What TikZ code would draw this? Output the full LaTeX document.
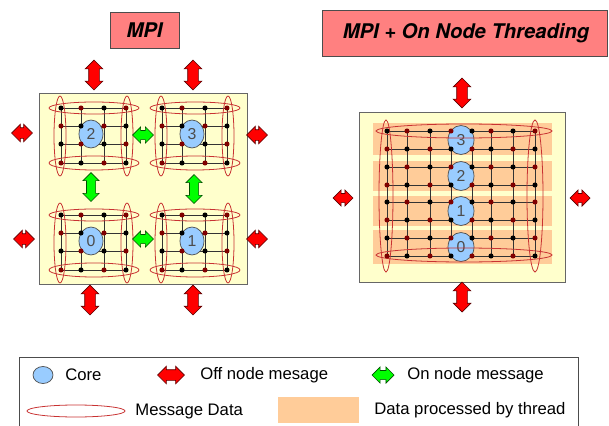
\documentclass[tikz,border=0pt]{standalone}
\usepackage{fontspec}
\setmainfont{Liberation Sans}
\newfontfamily\titlefont{TeX Gyre Heros}
\usetikzlibrary{calc,shapes.arrows,shapes.geometric}

\definecolor{titlered}{RGB}{255,128,128}
\definecolor{nodeyellow}{RGB}{255,255,204}
\definecolor{corefill}{RGB}{153,204,255}
\definecolor{threadfill}{RGB}{255,204,153}
\definecolor{dot0}{RGB}{0,0,0}
\definecolor{dot1}{RGB}{128,0,0}
\definecolor{msgred}{RGB}{200,50,50}
\definecolor{offred}{RGB}{255,0,0}
\definecolor{ongreen}{RGB}{0,255,0}

\tikzset{
  titlebox/.style={draw=black!70, fill=titlered},
  titletext/.style={text=black, font=\fontsize{11.5}{13}\titlefont\bfseries\itshape},
  nodebox/.style={draw=black!60, fill=nodeyellow},
  gridline/.style={draw=black!80, line width=0.5pt},
  msgdata/.style={draw=msgred, line width=0.45pt},
  core/.style={ellipse, draw=black!70, fill=corefill, inner sep=0pt,
    minimum width=0.48cm, minimum height=0.56cm, text=black!70,
    font=\fontsize{9}{10}\selectfont},
  offmsg/.style={double arrow, draw=dot1!70!black, fill=offred, inner xsep=0pt,
    inner ysep=0.1cm, double arrow head extend=0.07cm, minimum height=0.6cm},
  onmsg/.style={offmsg, fill=ongreen, draw=green!30!black, inner ysep=0.085cm},
  legtext/.style={anchor=west, inner sep=0pt, font=\fontsize{9.5}{11}\selectfont}
}

\begin{document}
\begin{tikzpicture}[x=0.02cm, y=-0.02cm]
  \useasboundingbox (0,0) rectangle (609,426);

  \draw[titlebox] (110,12) rectangle (179,48);
  \node[titletext] (t1) at (144.5,30) {MPI};
  \draw[titlebox] (322,10) rectangle (607,56);
  \node[titletext] (t2) at (466,33) {MPI + On Node Threading};

  \draw[nodebox] (39,93) rectangle (247,284);
  \draw[nodebox] (359,112) rectangle (565,282);

  \foreach \gx/\gy/\n in {61/108/2,162/108/3,61/215/0,162/215/1} {
    \foreach \d in {0,18,36,55}
      \draw[gridline] (\gx,\gy+\d) -- (\gx+65,\gy+\d);
    \foreach \d in {0,20,43,65}
      \draw[gridline] (\gx+\d,\gy) -- (\gx+\d,\gy+55);
    \node[core] (core\n) at (\gx+30,\gy+26) {\n};
    \draw[msgdata] (\gx+33,\gy) ellipse [x radius=45, y radius=6];
    \draw[msgdata] (\gx+33,\gy+55) ellipse [x radius=45, y radius=7];
    \draw[msgdata] (\gx-1,\gy+28) ellipse [x radius=6, y radius=40];
    \draw[msgdata] (\gx+66,\gy+28) ellipse [x radius=6, y radius=40];
    \foreach \dx [count=\i] in {0,20,43,65} {
      \foreach \dy [count=\j] in {0,18,36,55} {
        \pgfmathtruncatemacro\k{mod(\i+\j,2)}
        \path[fill=dot\k] (\gx+\dx,\gy+\dy) circle [radius=1.45pt];
      }
    }
  }

  \foreach \y/\h in {123/32,161/30,196/30,230/34}
    \fill[threadfill] (373,\y) rectangle (552,\y+\h);
  \foreach \y in {131,149,167,185,202,220,238,256}
    \draw[gridline] (387,\y) -- (535,\y);
  \foreach \x in {387,407,430,451,472,491,513,535}
    \draw[gridline] (\x,131) -- (\x,256);
  \foreach \n/\y in {3/140,2/176,1/211,0/247}
    \node[core, minimum width=0.52cm, minimum height=0.58cm] (thr\n) at (461,\y) {\n};
  \draw[msgdata] (464,131) ellipse [x radius=88, y radius=7];
  \draw[msgdata] (464,255) ellipse [x radius=88, y radius=7];
  \draw[msgdata] (386,196) ellipse [x radius=7, y radius=76];
  \draw[msgdata] (535,196) ellipse [x radius=8, y radius=76];
  \foreach \x [count=\i] in {387,407,430,451,472,491,513,535} {
    \foreach \y [count=\j] in {131,149,167,185,202,220,238,256} {
      \pgfmathtruncatemacro\k{mod(\i+\j,2)}
      \path[fill=dot\k] (\x,\y) circle [radius=1.45pt];
    }
  }

  \node[offmsg, rotate=90] (a1) at (94,75) {};
  \node[offmsg, rotate=90] (a2) at (193,75) {};
  \node[offmsg, rotate=90] (a3) at (90,300) {};
  \node[offmsg, rotate=90] (a4) at (193,300) {};
  \node[offmsg, minimum height=0.42cm] (a5) at (22,133) {};
  \node[offmsg, minimum height=0.42cm] (a6) at (24,239) {};
  \node[offmsg, minimum height=0.42cm] (a7) at (257,135) {};
  \node[offmsg, minimum height=0.42cm] (a8) at (257,239) {};
  \node[onmsg, minimum height=0.42cm] (g1) at (143,135) {};
  \node[onmsg, minimum height=0.42cm] (g2) at (143,239) {};
  \node[onmsg, rotate=90, minimum height=0.58cm] (g3) at (91,187) {};
  \node[onmsg, rotate=90, minimum height=0.58cm] (g4) at (194,189) {};

  \node[offmsg, rotate=90] (b1) at (462,93) {};
  \node[offmsg, rotate=90] (b2) at (462,297) {};
  \node[offmsg, minimum height=0.4cm, inner ysep=0.085cm] (b3) at (343,198) {};
  \node[offmsg, minimum height=0.4cm, inner ysep=0.085cm] (b4) at (580,198) {};

  \draw[black!70] (19,426) -- (19,357) -- (578,357) -- (578,426);
  \node[core, minimum width=0.4cm, minimum height=0.34cm] (lcore) at (43,375) {};
  \node[legtext] (l1) at (65,375) {Core};
  \node[offmsg, minimum height=0.54cm] (loff) at (171,375) {};
  \node[legtext] (l2) at (200,375) {Off node mesage};
  \node[onmsg, minimum height=0.44cm] (lon) at (383,375) {};
  \node[legtext] (l3) at (407,375) {On node message};
  \draw[msgdata] (76,411) ellipse [x radius=49, y radius=6];
  \node[legtext] (l4) at (135,411) {Message Data};
  \fill[threadfill] (278,397) rectangle (359,423);
  \node[legtext] (l5) at (374,410) {Data processed by thread};
\end{tikzpicture}
\end{document}
